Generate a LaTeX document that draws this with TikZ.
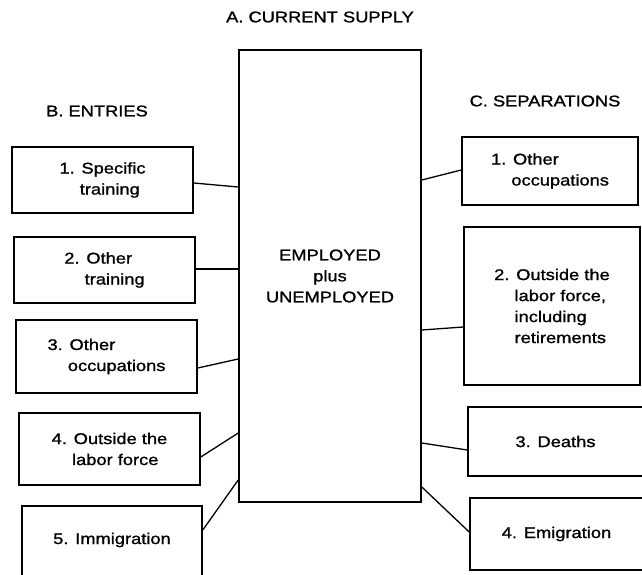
\documentclass[tikz,border=0pt]{standalone}
\usepackage{fontspec}
\setmainfont{Liberation Sans}[FakeStretch=1.18,FakeBold=1.2]
\newcommand\dfont{\fontsize{15.5}{21}\selectfont}
\tikzset{
  box/.style={draw, line width=1.6pt, inner sep=0pt, align=left, font=\dfont},
  mainbox/.style={draw, line width=1.6pt, inner sep=0pt, align=center, font=\dfont},
  conn/.style={line width=1.3pt},
  head/.style={font=\dfont, inner sep=0pt}
}
\begin{document}
\begin{tikzpicture}[x=1pt,y=-1pt]
\useasboundingbox (0,0) rectangle (642,575);
% titles
\node[head] (ta) at (320,17) {A. CURRENT SUPPLY};
\node[head] (tb) at (97,111) {B. ENTRIES};
\node[head] (tc) at (545,101) {C. SEPARATIONS};
% main box
\node[mainbox, minimum width=182pt, minimum height=452pt] (main) at (330,276)
  {EMPLOYED\\plus\\UNEMPLOYED};
% entries
\node[box, minimum width=181pt, minimum height=66pt] (l1) at (102.5,180)
  {1. Specific\\\hphantom{1.\ }training};
\node[box, minimum width=181pt, minimum height=66pt] (l2) at (104.5,270)
  {2. Other\\\hphantom{2.\ }training};
\node[box, minimum width=181pt, minimum height=73pt] (l3) at (106.5,356.5)
  {3. Other\\\hphantom{3.\ }occupations};
\node[box, minimum width=181pt, minimum height=72pt] (l4) at (109.5,449)
  {4. Outside the\\\hphantom{4.\ }labor force};
\node[box, minimum width=180pt, minimum height=95pt, anchor=north] (l5) at (112,505) {};
\node[head] (l5t) at (l5.north |- 0,540) {5. Immigration};
% separations
\node[box, minimum width=176pt, minimum height=68pt] (r1) at (550,171)
  {1. Other\\\hphantom{1.\ }occupations};
\node[box, minimum width=176pt, minimum height=158pt] (r2) at (552,306)
  {2. Outside the\\\hphantom{2.\ }labor force,\\\hphantom{2.\ }including\\\hphantom{2.\ }retirements};
\node[box, minimum width=175pt, minimum height=69pt, align=center] (r3) at (555.5,441.5)
  {3. Deaths};
\node[box, minimum width=173pt, minimum height=72pt, align=center] (r4) at (556.5,534)
  {4. Emigration};
% connectors
\draw[conn] (l1.east |- 0,183) -- (main.west |- 0,187);
\draw[conn] (l2.east |- 0,269) -- (main.west |- 0,269);
\draw[conn] (l3.east |- 0,368) -- (main.west |- 0,359);
\draw[conn] (l4.east |- 0,457) -- (main.west |- 0,433);
\draw[conn] (l5.east |- 0,530) -- (main.west |- 0,480);
\draw[conn] (main.east |- 0,180) -- (r1.west |- 0,170);
\draw[conn] (main.east |- 0,330) -- (r2.west |- 0,327);
\draw[conn] (main.east |- 0,443) -- (r3.west |- 0,450);
\draw[conn] (main.east |- 0,487) -- (r4.west |- 0,532);
\end{tikzpicture}
\end{document}
